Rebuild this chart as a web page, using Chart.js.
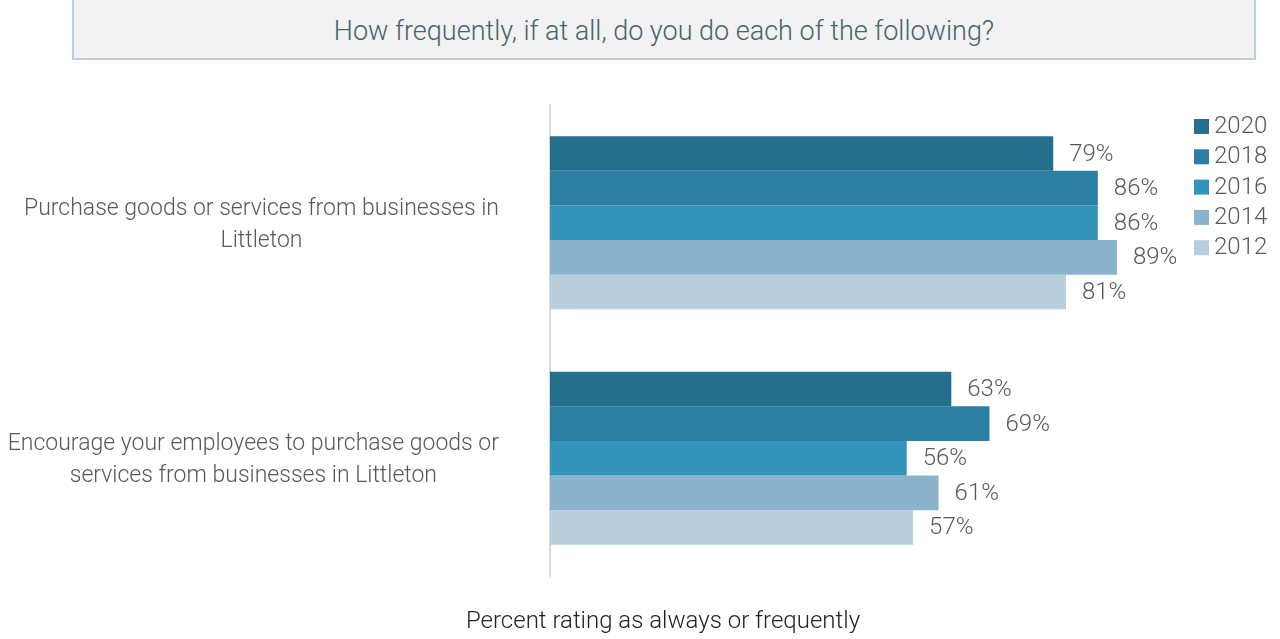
<!DOCTYPE html>
<html>
<head>
<meta charset="utf-8">
<script src="https://cdn.jsdelivr.net/npm/chart.js@4"></script>
<style>
  html, body { margin: 0; padding: 0; background: #fff; }
  #wrap { position: relative; width: 1280px; height: 639px; }
  #titulo {
    position: absolute; left: 72px; top: -2px; width: 1180px; height: 58px;
    background: #f2f2f2; border: 2px solid #bcd0dc;
    font-family: Roboto, "Open Sans", sans-serif; font-weight: 300;
    font-size: 27px; color: #47636c; text-align: center; line-height: 62px;
  }
  canvas { position: absolute; left: 0; top: 0; }
</style>
</head>
<body>
<div id="wrap">
  <div id="titulo">How frequently, if at all, do you do each of the following?</div>
  <canvas id="grafico" width="1280" height="639"></canvas>
</div>
<script>
const categorias = [
    ["Purchase goods or services from businesses in", "Littleton"],
    ["Encourage your employees to purchase goods or", "services from businesses in Littleton"]
];
const anos = ["2020", "2018", "2016", "2014", "2012"];
const valores2020 = [79, 63];
const valores2018 = [86, 69];
const valores2016 = [86, 56];
const valores2014 = [89, 61];
const valores2012 = [81, 57];
const cores = ["#246f8b", "#2c7fa2", "#3394bb", "#8bb3cc", "#b8cedc"];
const tituloEixoX = "Percent rating as always or frequently";

const fonte = "Roboto, 'Open Sans', sans-serif";

// rótulos de valor no fim de cada barra
const rotulosPlugin = {
    id: 'rotulos',
    afterDatasetsDraw(chart) {
        const ctx = chart.ctx;
        ctx.save();
        ctx.font = "300 24px " + fonte;
        ctx.fillStyle = "#595959";
        ctx.textBaseline = "middle";
        ctx.textAlign = "left";
        chart.data.datasets.forEach((ds, i) => {
            chart.getDatasetMeta(i).data.forEach((bar, j) => {
                ctx.fillText(ds.data[j] + "%", bar.x + 16, bar.y + 1);
            });
        });
        ctx.restore();
    }
};

// categorias: bloco alinhado à direita, linhas centralizadas entre si
const categoriasPlugin = {
    id: 'categorias',
    afterDraw(chart) {
        const ctx = chart.ctx;
        const escala = chart.scales.y;
        ctx.save();
        ctx.font = "300 23px " + fonte;
        ctx.fillStyle = "#595959";
        ctx.textBaseline = "middle";
        ctx.textAlign = "center";
        const direita = escala.right - 51;
        const entre = 32;
        chart.data.labels.forEach((linhas, i) => {
            const y = escala.getPixelForTick(i) + 2;
            const largura = Math.max(...linhas.map(l => ctx.measureText(l).width));
            const cx = direita - largura / 2;
            const y0 = y - (linhas.length - 1) * entre / 2;
            linhas.forEach((l, k) => ctx.fillText(l, cx, y0 + k * entre));
        });
        ctx.restore();
    }
};

// legenda à direita e título do eixo x (centralizado na página)
const legendaPlugin = {
    id: 'legenda',
    afterDraw(chart) {
        const ctx = chart.ctx;
        ctx.save();
        ctx.font = "300 24px " + fonte;
        ctx.textBaseline = "middle";
        ctx.textAlign = "left";
        const x = chart.chartArea.right + 7;
        chart.data.datasets.forEach((ds, i) => {
            const y = 126 + i * 30.3;
            ctx.fillStyle = ds.backgroundColor;
            ctx.fillRect(x, y - 7, 15, 15);
            ctx.fillStyle = "#595959";
            ctx.fillText(ds.label, x + 20, y + 1);
        });
        ctx.fillStyle = "#222222";
        ctx.textAlign = "center";
        ctx.fillText(tituloEixoX, 663, 622);
        ctx.restore();
    }
};

const series = [valores2020, valores2018, valores2016, valores2014, valores2012];

const ctx = document.getElementById('grafico').getContext('2d');
new Chart(ctx, {
    type: 'bar',
    data: {
        labels: categorias,
        datasets: series.map((dados, i) => ({
            label: anos[i],
            data: dados,
            backgroundColor: cores[i],
            borderWidth: 0,
            barPercentage: 1,
            categoryPercentage: 0.735
        }))
    },
    options: {
        responsive: false,
        animation: false,
        indexAxis: 'y',
        layout: { padding: { top: 105, bottom: 55, left: 0, right: 93 } },
        scales: {
            x: {
                min: 0,
                max: 100,
                grid: { display: false },
                border: { display: false },
                ticks: { display: false }
            },
            y: {
                grid: { display: false },
                border: { display: true, color: "#d9d9d9", width: 2 },
                ticks: { display: false },
                afterFit(scale) { scale.width = 550; }
            }
        },
        plugins: {
            legend: { display: false },
            tooltip: { enabled: false }
        }
    },
    plugins: [rotulosPlugin, categoriasPlugin, legendaPlugin]
});
</script>
</body>
</html>
